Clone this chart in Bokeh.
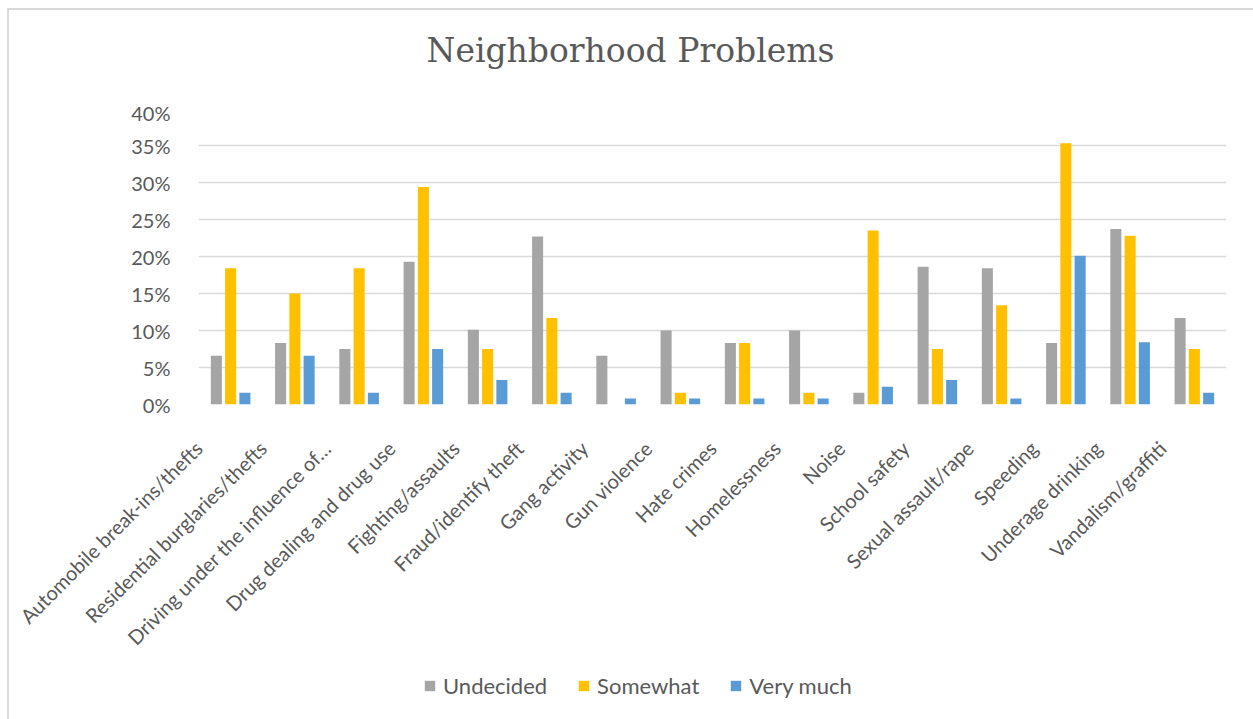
from bokeh.plotting import figure
from bokeh.models import (Range1d, NumeralTickFormatter, FixedTicker,
                          Legend, LegendItem, ColumnDataSource, LinearAxis,
                          CustomJSTickFormatter)
from bokeh.layouts import column
from bokeh.transform import dodge
from bokeh.embed import file_html
from bokeh.resources import INLINE
import math

categories = ["Automobile break-ins/thefts", "Residential burglaries/thefts",
              "Driving under the influence of…", "Drug dealing and drug use",
              "Fighting/assaults", "Fraud/identify theft", "Gang activity",
              "Gun violence", "Hate crimes", "Homelessness", "Noise",
              "School safety", "Sexual assault/rape", "Speeding",
              "Underage drinking", "Vandalism/graffiti"]
undecided = [0.066, 0.083, 0.075, 0.193, 0.101, 0.227, 0.066, 0.100, 0.083, 0.100,
             0.016, 0.186, 0.184, 0.083, 0.237, 0.117]
somewhat = [0.184, 0.150, 0.184, 0.294, 0.075, 0.117, 0.0, 0.016, 0.083, 0.016,
            0.235, 0.075, 0.134, 0.353, 0.228, 0.075]
very_much = [0.016, 0.066, 0.016, 0.075, 0.033, 0.016, 0.008, 0.008, 0.008, 0.008,
             0.024, 0.033, 0.008, 0.201, 0.084, 0.016]
y_ticks = [0, 0.05, 0.10, 0.15, 0.20, 0.25, 0.30, 0.35, 0.40]
series_names = ["Undecided", "Somewhat", "Very much"]
series_cols = ["u", "s", "v"]
colors = ["#A5A5A5", "#FFC000", "#5B9BD5"]

n = len(categories)
pos = [i + 0.5 for i in range(n)]  # category slot centres
src = ColumnDataSource(dict(pos=pos, cat=categories, u=undecided, s=somewhat, v=very_much))

TEXT = "#595959"
FONT = "Lato"
LABEL_SHIFT = 0.499  # category labels sit left of their group, as in the reference

# title strip above the chart
ts = figure(width=1244, height=90, x_range=Range1d(0, 1), y_range=Range1d(0, 1),
            output_backend="svg", toolbar_location=None, x_axis_location=None,
            y_axis_location=None, min_border_left=189, min_border_right=27,
            min_border_top=0, min_border_bottom=0, outline_line_color=None)
ts.xgrid.visible = False
ts.ygrid.visible = False
ts.title.text = "Neighborhood Problems"
ts.title.align = "left"
ts.title.offset = 228
ts.title.standoff = 36
ts.title.text_font = "DejaVu Serif"
ts.title.text_font_size = "33px"
ts.title.text_font_style = "normal"
ts.title.text_color = TEXT

p = figure(width=1244, height=560, x_range=Range1d(0, n),
           y_range=Range1d(0, 0.40), output_backend="svg", toolbar_location=None,
           x_axis_location=None,
           min_border_left=189, min_border_right=27, min_border_top=8,
           min_border_bottom=256, outline_line_color=None)
p.xgrid.visible = False

for col, off, color in zip(series_cols, [-0.222, 0.0, 0.222], colors):
    p.vbar(x=dodge("pos", off), top=col, width=0.172,
           source=src, fill_color=color, line_color=None)

p.ygrid.grid_line_color = "#d9d9d9"
p.ygrid.grid_line_width = 1.5
p.yaxis.ticker = FixedTicker(ticks=y_ticks)
p.yaxis.formatter = NumeralTickFormatter(format="0%")
p.yaxis.axis_line_color = None
p.yaxis.major_tick_line_color = None
p.yaxis.minor_tick_line_color = None
p.yaxis.major_label_standoff = 22
p.yaxis.major_label_text_font = FONT
p.yaxis.major_label_text_font_size = "20px"
p.yaxis.major_label_text_color = TEXT

p.extra_x_ranges = {"lab": Range1d(LABEL_SHIFT - 0.5, n + LABEL_SHIFT - 0.5)}
xaxis = LinearAxis(x_range_name="lab", ticker=FixedTicker(ticks=list(range(n))),
                   formatter=CustomJSTickFormatter(
                       args=dict(labels=categories),
                       code="return labels[Math.round(tick)];"))
xaxis.axis_line_color = None
xaxis.major_tick_line_color = None
xaxis.minor_tick_line_color = None
xaxis.major_label_orientation = math.pi / 4
xaxis.major_label_standoff = 34
xaxis.major_label_text_font = FONT
xaxis.major_label_text_font_size = "20px"
xaxis.major_label_text_color = TEXT
p.add_layout(xaxis, "below")
p.title.visible = False

# legend strip beneath the chart (its bars fall outside its view; only the legend shows)
lg = figure(width=1244, height=59, x_range=Range1d(0, n), y_range=Range1d(10, 11),
            output_backend="svg", toolbar_location=None, x_axis_location=None,
            y_axis_location=None, min_border_left=189, min_border_right=27,
            min_border_top=0, min_border_bottom=0, outline_line_color=None)
lg.xgrid.visible = False
lg.ygrid.visible = False
keys = [lg.vbar(x="pos", top=col, width=0.1, source=src, fill_color=c, line_color=None)
        for col, c in zip(series_cols, colors)]
legend = Legend(items=[LegendItem(label=nm, renderers=[r]) for nm, r in zip(series_names, keys)],
                orientation="horizontal", location=(225, 20),
                glyph_width=13, glyph_height=13, label_standoff=7, spacing=30,
                padding=0, margin=0, border_line_color=None,
                background_fill_alpha=0,
                label_text_font=FONT, label_text_font_size="22px",
                label_text_color=TEXT)
lg.add_layout(legend, "center")

layout = column(ts, p, lg, spacing=0)
layout.styles = {"margin-left": "7px", "margin-top": "8px",
                 "border-left": "2px solid #d9d9d9", "border-top": "2px solid #d9d9d9"}

open("out.html", "w").write(file_html(layout, INLINE))
